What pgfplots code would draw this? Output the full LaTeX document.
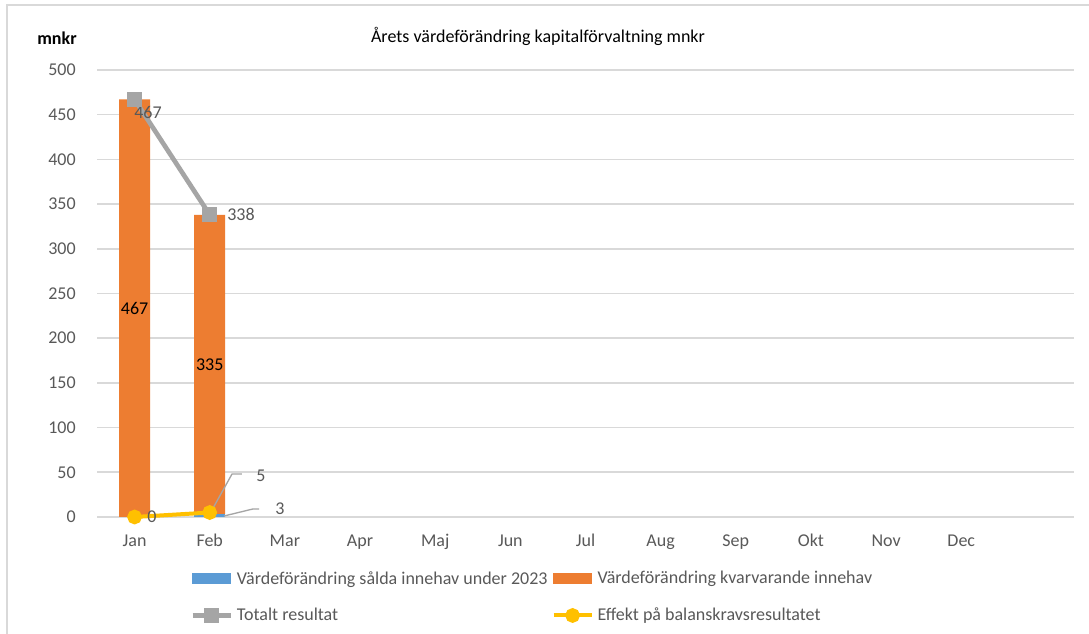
\documentclass[border=0pt]{standalone}
\usepackage{pgfplots}
\pgfplotsset{compat=1.18}
\usepackage{fontspec}
\setmainfont{Carlito}
\definecolor{cblue}{HTML}{5B9BD5}
\definecolor{corange}{HTML}{ED7D31}
\definecolor{cgray}{HTML}{A5A5A5}
\definecolor{cyellow}{HTML}{FFC000}
\definecolor{gridc}{HTML}{D9D9D9}
\definecolor{txt}{HTML}{595959}
\newcommand{\fs}{\fontsize{13.5}{16}\selectfont}
\pgfplotsset{
  base/.style={
    scale only axis, width=732.75pt, height=335.25pt,
    at={(72.75pt,87.75pt)}, anchor=south west,
    xmin=-0.5, xmax=12.5, ymin=0, ymax=500,
    clip=false,
  }
}
\begin{document}
\begin{tikzpicture}
\useasboundingbox (0,0) rectangle (816.75pt,475.5pt);
\fill[white] (0,0) rectangle (816.75pt,475.5pt);
\draw[gridc, line width=1.5pt] (5.25pt,0pt) -- (5.25pt,471.75pt) -- (816.75pt,471.75pt);
\begin{axis}[base,
  ybar stacked, bar width=23.25pt,
  axis line style={draw=none}, tick style={draw=none},
  ymajorgrids, grid style={gridc, line width=1.2pt},
  ytick={0,50,...,500},
  xtick={0,...,11},
  xticklabels={Jan,Feb,Mar,Apr,Maj,Jun,Jul,Aug,Sep,Okt,Nov,Dec},
  /pgf/number format/assume math mode=true,
  ticklabel style={font=\fs, text=txt},
  yticklabel style={anchor=east, inner sep=0pt, xshift=-15.75pt},
  xticklabel style={anchor=base, inner sep=0pt, yshift=-22.5pt},
]
\addplot[fill=cblue, draw=none] coordinates {(0,0) (1,3)};
\addplot[fill=corange, draw=none] coordinates {(0,467) (1,335)};
\end{axis}
\begin{axis}[base, hide axis,
  legend columns=2,
  legend cell align=left,
  legend image code/.code={\draw[#1, mark repeat=2, mark phase=2] plot coordinates {(0pt,0pt) (14.25pt,0pt) (28.5pt,0pt)};},
  legend style={at={(0.0952,-0.121)}, anchor=north west, draw=none, fill=none,
    font=\fs, text=txt, inner sep=0pt, row sep=16.5pt, column sep=0pt,
    nodes={inner xsep=3pt, inner ysep=0pt}},
  legend entries={V\"ardef\"or\"andring s\aa lda innehav under 2023,
    V\"ardef\"or\"andring kvarvarande innehav,
    Totalt resultat, Effekt p\aa{} balanskravsresultatet},
]
\addlegendimage{legend image code/.code={\fill[cblue] (0pt,-3.75pt) rectangle (28.5pt,3.75pt);}}
\addlegendimage{legend image code/.code={\fill[corange] (0pt,-3.75pt) rectangle (28.5pt,3.75pt);}}
\addplot[cgray, line width=3.5pt, mark=square*, mark size=4pt]
  coordinates {(0,467) (1,338)};
\addplot[cyellow, line width=3pt, mark=*, mark size=4pt]
  coordinates {(0,0) (1,5)};
\node[text=txt, font=\fs] at (axis cs:0.179,453) {467};
\node[text=txt, font=\fs] at (axis cs:1.416,338) {338};
\node[text=txt, font=\fs] at (axis cs:0.232,0) {0};
\node[font=\fs] at (axis cs:0,233.5) {467};
\node[font=\fs] at (axis cs:1,170.5) {335};
\draw[cgray, line width=1pt] (axis cs:1.03,7.8) -- (axis cs:1.296,48) -- (axis cs:1.429,48);
\node[text=txt, font=\fs] at (axis cs:1.682,46) {5};
\draw[cgray, line width=1pt] (axis cs:1.19,1.1) -- (axis cs:1.576,9) -- (axis cs:1.656,9);
\node[text=txt, font=\fs] at (axis cs:1.935,9) {3};
\end{axis}
\node[font=\fontsize{13.5}{16}\selectfont] at (403.5pt,448.5pt) {Årets värdeförändring kapitalförvaltning mnkr};
\node[font=\fs\bfseries] at (42.75pt,447pt) {mnkr};
\end{tikzpicture}
\end{document}
